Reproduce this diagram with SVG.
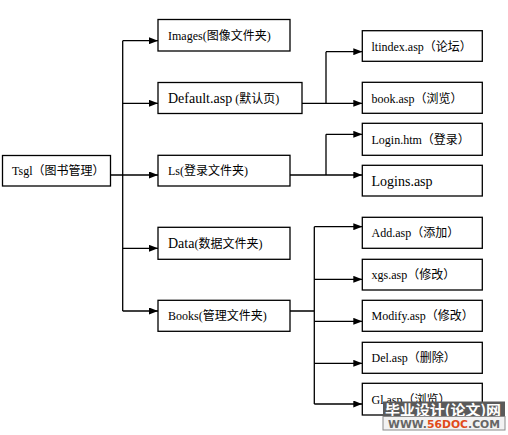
<svg xmlns="http://www.w3.org/2000/svg" width="508" height="435" viewBox="0 0 508 435">
<defs>
<style>
.box{fill:#fff;stroke:#000;stroke-width:1.3}
.t{font-family:"Liberation Serif","Noto Sans CJK SC",serif;font-size:12px;fill:#000}
.c{font-family:"Noto Sans CJK SC",sans-serif;font-size:12px}
.big{font-size:14px}
.ln{fill:none;stroke:#000;stroke-width:1.3}
.ar{fill:none;stroke:#000;stroke-width:1.3;marker-end:url(#ah)}
</style>
<marker id="ah" markerUnits="userSpaceOnUse" markerWidth="9" markerHeight="7" refX="9" refY="3.5" orient="auto">
<path d="M0,0 L9,3.5 L0,7 Z" fill="#000"/>
</marker>
</defs>
<rect width="508" height="435" fill="#fff"/>
<g id="connectors">
<path class="ln" d="M110 175 H122.7 M122.7 40.7 V311"/>
<path class="ar" d="M122.7 40.7 H158"/>
<path class="ar" d="M122.7 103.3 H158"/>
<path class="ar" d="M122.7 175 H158"/>
<path class="ar" d="M122.7 248.3 H158"/>
<path class="ar" d="M122.7 311 H158"/>
<path class="ln" d="M302 103.3 H326 M326 51.7 V103.3"/>
<path class="ar" d="M326 51.7 H362.3"/>
<path class="ar" d="M326 103.3 H362.3"/>
<path class="ln" d="M290 175 H326 M326 134.3 V175"/>
<path class="ar" d="M326 134.3 H362.3"/>
<path class="ar" d="M326 175 H362.3"/>
<path class="ln" d="M290 311 H314.3 M314.3 226.7 V404"/>
<path class="ar" d="M314.3 226.7 H362.3"/>
<path class="ar" d="M314.3 279.3 H362.3"/>
<path class="ar" d="M314.3 321.3 H362.3"/>
<path class="ar" d="M314.3 363.3 H362.3"/>
<path class="ar" d="M314.3 404 H362.3"/>
</g>
<g id="tsgl"><rect class="box" x="2.5" y="155.5" width="108" height="30.5"/><text class="t" x="12" y="175">Tsgl<tspan class="c">（图书管理）</tspan></text></g>
<g id="images"><rect class="box" x="158" y="19.5" width="132" height="31.5"/><text class="t" x="168" y="40">Images(<tspan class="c">图像文件夹</tspan>)</text></g>
<g id="default"><rect class="box" x="158" y="82.5" width="144" height="31"/><text class="t" x="168" y="102.5"><tspan class="big">Default.asp</tspan> (<tspan class="c">默认页</tspan>)</text></g>
<g id="ls"><rect class="box" x="158" y="155.3" width="132" height="30.7"/><text class="t" x="168" y="175">Ls(<tspan class="c">登录文件夹</tspan>)</text></g>
<g id="data"><rect class="box" x="158" y="227.3" width="132" height="32"/><text class="t" x="168" y="248"><tspan class="big">Data</tspan>(<tspan class="c">数据文件夹</tspan>)</text></g>
<g id="books"><rect class="box" x="158" y="300.3" width="132" height="31"/><text class="t" x="168" y="320">Books(<tspan class="c">管理文件夹</tspan>)</text></g>
<g id="ltindex"><rect class="box" x="362.3" y="30.7" width="120" height="30.6"/><text class="t" x="371.5" y="50.5">ltindex.asp<tspan class="c">（论坛）</tspan></text></g>
<g id="book"><rect class="box" x="362.3" y="82.3" width="120" height="31"/><text class="t" x="371.5" y="102.5">book.asp<tspan class="c">（浏览）</tspan></text></g>
<g id="loginhtm"><rect class="box" x="362.3" y="123.3" width="120" height="32"/><text class="t" x="371.5" y="144">Login.htm<tspan class="c">（登录）</tspan></text></g>
<g id="logins"><rect class="box" x="362.3" y="165.3" width="120" height="30.7"/><text class="t big" x="371.5" y="185.5">Logins.asp</text></g>
<g id="add"><rect class="box" x="362.3" y="217.3" width="120" height="31"/><text class="t" x="371.5" y="237">Add.asp<tspan class="c">（添加）</tspan></text></g>
<g id="xgs"><rect class="box" x="362.3" y="259.3" width="120" height="30.7"/><text class="t" x="371.5" y="279">xgs.asp<tspan class="c">（修改）</tspan></text></g>
<g id="modify"><rect class="box" x="362.3" y="300.3" width="120" height="31"/><text class="t" x="371.5" y="320">Modify.asp<tspan class="c">（修改）</tspan></text></g>
<g id="del"><rect class="box" x="362.3" y="342.3" width="120" height="31"/><text class="t" x="371.5" y="362">Del.asp<tspan class="c">（删除）</tspan></text></g>
<g id="gl"><rect class="box" x="362.3" y="383.3" width="120" height="31.7"/><text class="t" x="371.5" y="403.5">Gl.asp<tspan class="c">（浏览）</tspan></text></g>
<g id="watermark">
<rect x="383" y="401.5" width="122" height="15" fill="#5a5a5a"/>
<text x="385" y="414.5" font-family="Noto Sans CJK SC,sans-serif" font-weight="bold" font-size="14" fill="#fff" textLength="116" lengthAdjust="spacingAndGlyphs">毕业设计(论文)网</text>
<rect x="383" y="416.5" width="122" height="13.5" fill="#f2f2f2" stroke="#8a8a8a" stroke-width="1"/>
<text x="388" y="427.5" font-family="DejaVu Sans,sans-serif" font-weight="bold" font-size="11" fill="#666" textLength="112" lengthAdjust="spacingAndGlyphs">WWW.<tspan fill="#e04a1a">56DOC</tspan>.COM</text>
</g>
</svg>
